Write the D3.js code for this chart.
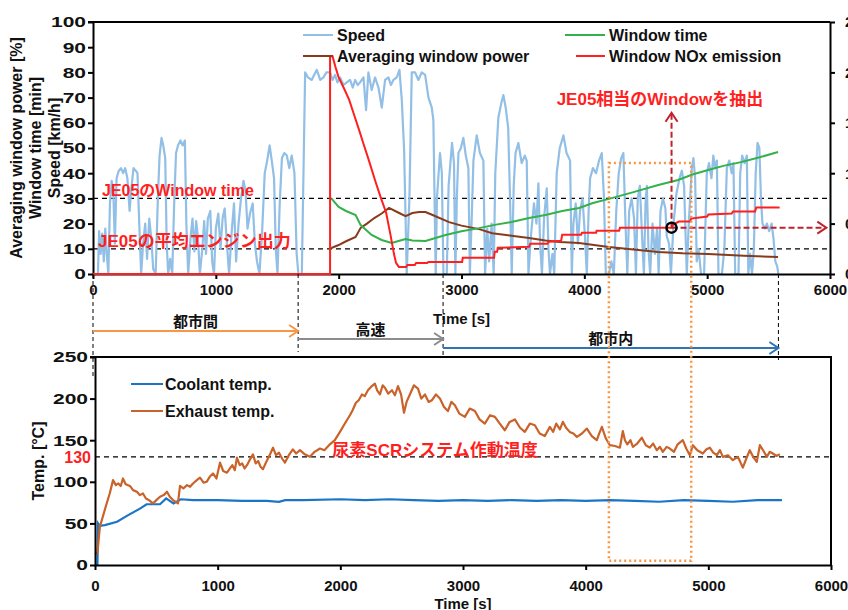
<!DOCTYPE html>
<html>
<head>
<meta charset="utf-8">
<style>
body {
  margin: 0;
  background: #ffffff;
}

svg {
  display: block;
}

text {
  font-family: "Liberation Sans", Arial, "Noto Sans CJK JP", sans-serif;
  font-weight: bold;
  fill: #111111;
}

.axis path, .axis line {
  stroke: #000000;
  stroke-width: 2;
}

.axis text {
  font-size: 15px;
}
</style>
</head>
<body>
<script src="https://cdnjs.cloudflare.com/ajax/libs/d3/7.8.5/d3.min.js"></script>
<script>
// ---- data: [time s, value] ----
var speed = [
  [0,0],[40,0],[50,17],[62,8],[75,16],[88,5],[100,18],[112,8],[125,0],[138,28],[152,37],[165,33],[178,12],[192,38],
  [210,41],[228,42],[245,40],[262,42],[280,38],[298,25],[312,34],[330,42],[348,41],[362,40],[378,18],[392,0],
  [408,12],[425,20],[440,6],[458,22],[475,14],[490,2],[510,0],[528,30],[542,47],[558,54],[572,51],[588,46],
  [600,12],[612,0],[628,6],[645,0],[662,30],[676,48],[692,51],[712,53],[730,51],[748,53],[760,20],[775,0],
  [795,15],[810,22],[825,9],[840,21],[855,14],[870,0],[890,10],[905,21],[920,8],[935,22],[955,25],[970,5],
  [985,0],[1000,18],[1020,24],[1038,10],[1055,22],[1072,26],[1090,12],[1108,0],[1128,16],[1148,28],[1165,5],
  [1185,20],[1205,30],[1225,37],[1242,33],[1258,18],[1278,24],[1300,28],[1318,12],[1335,5],[1355,0],[1378,18],
  [1398,40],[1418,45],[1438,51],[1458,44],[1474,38],[1488,10],[1502,0],[1520,28],[1538,46],[1558,48],[1578,47],
  [1598,42],[1618,47],[1640,40],[1658,8],[1672,0],[1700,0],
  [1727,80],[1750,78],[1781,77],[1800,79],[1822,81],[1850,77],[1876,78],[1900,80],[1930,80],[1950,77],[1971,79],
  [1990,76],[2012,78],[2040,75],[2066,76],[2093,77],[2115,74],[2134,77],[2155,75],[2174,76],[2202,78],[2223,65],
  [2242,80],[2269,73],[2296,78],[2324,74],[2351,66],[2378,77],[2405,78],[2425,75],[2446,77],[2473,78],[2495,81],
  [2514,69],[2533,49],[2554,0],[2576,30],[2595,80],[2622,80],[2649,77],[2676,80],[2704,79],[2731,70],[2758,66],
  [2771,61],[2790,0],
  [2800,30],[2825,48],[2840,40],[2853,0],[2880,0],[2895,35],[2923,52],[2939,44],[2950,0],[2962,30],[2975,48],
  [2995,50],[3015,54],[3035,47],[3056,42],[3068,0],[3085,25],[3097,45],[3124,55],[3150,48],[3178,45],[3192,0],
  [3210,18],[3225,5],[3245,20],[3262,0],[3275,40],[3300,62],[3325,68],[3341,71],[3360,66],[3380,58],[3395,30],
  [3409,0],[3425,35],[3440,48],[3463,52],[3490,44],[3515,47],[3531,45],[3545,0],[3565,15],[3590,28],[3610,20],
  [3626,36],[3640,12],[3655,0],[3672,22],[3694,34],[3708,10],[3720,0],[3740,8],[3755,0],[3775,40],[3800,50],
  [3830,55],[3855,48],[3884,45],[3898,0],[3911,20],[3930,28],[3948,12],[3965,25],[3985,30],[4005,15],[4020,0],
  [4035,25],[4047,38],[4070,42],[4095,40],[4120,45],[4142,48],[4160,30],[4175,0],[4200,0],[4220,5],[4240,0],
  [4260,25],[4280,40],[4300,46],[4318,48],[4335,20],[4350,0],[4365,25],[4385,30],[4405,22],[4420,0],[4435,30],
  [4452,35],[4470,15],[4485,0],[4498,28],[4509,35],[4522,10],[4536,0],[4555,20],[4575,8],[4592,18],[4605,0],
  [4620,25],[4640,30],[4660,26],[4671,15],[4690,12],[4705,0],[4726,20],[4750,32],[4775,38],[4794,41],[4812,35],
  [4834,0],[4850,20],[4875,42],[4888,46],[4902,38],[4915,5],[4930,10],[4950,0],[4975,0],[4997,40],[5015,44],
  [5035,38],[5050,47],[5065,42],[5079,45],[5092,0],[5120,0],[5140,10],[5160,42],[5180,45],[5200,40],[5214,44],
  [5228,0],[5255,0],[5269,40],[5285,47],[5305,44],[5323,47],[5335,0],[5350,8],[5365,0],[5380,10],[5395,40],
  [5410,52],[5425,50],[5438,30],[5450,20],[5470,18],[5486,20],[5505,17],[5525,20],[5540,14],[5555,5],[5570,3],[5580,0]
]

var windowTime = [
  [1940,30],[2000,26.6],[2060,25],[2138,23.4],[2179,19.4],[2268,15.5],[2350,13.5],[2431,12.3],[2480,13],
  [2545,13.9],[2600,13.3],[2707,13.1],[2870,15.5],[3000,17],[3143,18.2],[3270,19.5],[3407,20.6],[3550,22.2],
  [3683,23.4],[3820,25],[3957,26.2],[4070,28.2],[4200,29.8],[4400,32.5],[4602,35.3],[4764,37.3],[4880,39.5],
  [5008,41.3],[5140,43],[5276,44.4],[5420,46.2],[5577,48.4]
]

var windowPower = [
  [1940,10.3],[2000,11.5],[2060,13],[2138,14.7],[2179,18.3],[2230,20],[2290,22.2],[2350,24],[2410,26.2],
  [2480,24.5],[2545,23],[2600,24.2],[2655,24.6],[2707,24.6],[2760,23.5],[2899,20.6],[3000,19.2],[3143,17.8],
  [3250,16.2],[3407,15.2],[3550,14.3],[3683,13.3],[3800,12.7],[3957,12.3],[4200,10.7],[4400,9.7],[4602,8.7],
  [4800,8.2],[5008,7.9],[5300,7.2],[5577,6.7]
]

var windowNox = [
  [0,0],[1930,0],[1930,2.16],[1950,2.16],[1975,2.05],[2000,1.95],[2040,1.85],[2085,1.73],[2120,1.6],[2166,1.43],
  [2200,1.3],[2240,1.15],[2304,0.9],[2345,0.75],[2386,0.61],[2420,0.4],[2450,0.2],[2467,0.11],[2490,0.07],
  [2549,0.07],[2560,0.09],[2620,0.09],[2630,0.11],[2720,0.11],[2730,0.12],[3005,0.12],[3010,0.16],[3265,0.16],
  [3270,0.22],[3290,0.22],[3295,0.26],[3550,0.27],[3560,0.3],[3700,0.3],[3710,0.32],[3811,0.33],[3820,0.39],
  [3974,0.39],[3980,0.41],[4096,0.41],[4100,0.43],[4283,0.43],[4290,0.46],[4715,0.46],[4720,0.49],[4770,0.52],
  [4860,0.52],[4870,0.55],[5000,0.57],[5010,0.59],[5200,0.6],[5210,0.62],[5390,0.62],[5400,0.66],[5590,0.66]
]

var coolant = [
  [0,0],[20,0],[25,50],[40,47],[80,48],[180,52],[260,59],[370,68],[420,73],[530,73],[580,80],[640,74],[700,79],
  [800,78],[1000,78],[1200,77],[1400,77],[1500,76],[1550,78],[1700,78],[2000,79],[2200,78],[2400,79],[2600,78],
  [2800,77],[3000,78],[3200,77],[3400,78],[3600,77],[3800,78],[4000,77],[4200,78],[4400,77],[4600,76],[4800,78],
  [5000,77],[5200,76],[5400,78],[5600,78]
]

var exhaust = [
  [0,13],[20,15],[40,46],[95,74],[120,86],[147,102],[170,96],[190,98],[210,95],[228,104],[250,97],[285,95],
  [310,90],[342,88],[365,84],[391,86],[415,80],[440,78],[473,74],[500,78],[530,82],[560,84],[587,88],[610,82],
  [636,78],[676,74],[693,95],[720,92],[750,96],[775,94],[799,98],[830,102],[856,105],[885,99],[910,100],
  [935,106],[962,110],[990,104],[1019,123],[1045,113],[1076,111],[1100,116],[1120,120],[1140,114],[1157,129],
  [1180,120],[1200,122],[1220,116],[1239,120],[1260,126],[1288,133],[1310,122],[1330,125],[1350,118],[1369,115],
  [1390,122],[1410,128],[1430,134],[1451,141],[1475,132],[1500,135],[1525,128],[1548,123],[1580,132],[1613,139],
  [1640,134],[1671,138],[1710,133],[1752,130],[1790,136],[1834,140],[1870,138],[1915,145],[1955,150],[1997,160],
  [2037,170],[2078,180],[2100,186],[2127,195],[2150,198],[2176,205],[2200,203],[2225,210],[2250,214],[2282,218],
  [2300,210],[2323,205],[2345,216],[2364,213],[2390,206],[2421,210],[2445,204],[2470,215],[2495,205],[2519,183],
  [2540,196],[2567,205],[2600,216],[2633,212],[2660,200],[2690,205],[2720,196],[2746,198],[2780,205],[2812,200],
  [2845,190],[2877,185],[2905,196],[2934,192],[2970,182],[3015,178],[3055,188],[3097,185],[3135,175],[3178,170],
  [3220,180],[3260,178],[3300,170],[3341,162],[3380,172],[3423,175],[3465,165],[3504,160],[3545,170],[3586,168],
  [3625,158],[3667,155],[3708,166],[3735,160],[3760,170],[3790,163],[3814,172],[3840,165],[3870,160],[3900,158],
  [3928,154],[3970,158],[4010,164],[4050,155],[4091,150],[4110,158],[4132,166],[4165,152],[4197,144],[4240,143],
  [4279,141],[4303,161],[4320,150],[4340,145],[4365,150],[4385,142],[4420,146],[4458,153],[4490,144],[4523,141],
  [4550,146],[4580,138],[4605,142],[4629,136],[4660,142],[4686,140],[4720,136],[4750,145],[4792,150],[4820,140],
  [4849,132],[4874,144],[4910,138],[4955,134],[4985,139],[5012,141],[5040,135],[5070,132],[5095,138],[5118,130],
  [5160,132],[5200,126],[5240,130],[5260,124],[5281,117],[5310,128],[5338,138],[5365,130],[5395,124],[5420,144],
  [5450,137],[5477,130],[5500,136],[5526,134],[5555,131],[5583,133]
]

var timeTicks = [0, 1000, 2000, 3000, 4000, 5000, 6000]
var leftTicks = [0, 10, 20, 30, 40, 50, 60, 70, 80, 90, 100]
var rightTicks = [0, 0.5, 1, 1.5, 2, 2.5]
var tempTicks = [0, 50, 100, 150, 200, 250]

var je05Levels = [30, 10]          // window time [min], average power [%]
var scrTemp = 130
var phaseBounds = [0, 1670, 2850, 5580]
var phaseNames = ["都市間", "高速", "都市内"]
var phaseColors = ["#f79646", "#8c8c8c", "#2e75b6"]
var pickWindow = [4200, 4870]
var pickPoint = [4710, 0.46]

// ---- layout ----
var width = 848,
    height = 610;

var svg = d3.select("body")
  .append("svg")
  .attr("width", width)
  .attr("height", height)

var x = d3.scaleLinear().domain([0, 6000]).range([93, 830])
var yL = d3.scaleLinear().domain([0, 100]).range([274, 22])
var yR = d3.scaleLinear().domain([0, 2.5]).range([274, 22])
var x2 = d3.scaleLinear().domain([0, 6000]).range([95, 831])
var y2 = d3.scaleLinear().domain([0, 250]).range([565, 357])

var red = "#ff1f1f",
    darkRed = "#c0222c";

function lineOn(xs, ys) {
  return d3.line().x(function(d) { return xs(d[0]) }).y(function(d) { return ys(d[1]) })
}

function chevron(g, px, py, dir, color) {
  // open arrow head pointing right ("r") or up ("u")
  var p = dir === "r"
    ? [[px - 9, py - 6], [px, py], [px - 9, py + 6]]
    : [[px - 6, py + 9], [px, py], [px + 6, py + 9]]
  g.append("path")
    .attr("d", d3.line()(p))
    .attr("fill", "none")
    .attr("stroke", color)
    .attr("stroke-width", 2)
}

// ================= top chart =================
var topG = svg.append("g")

// JE05 reference lines
topG.selectAll(".je05")
  .data(je05Levels)
  .enter().append("line")
  .attr("x1", x(0)).attr("x2", x(6000))
  .attr("y1", function(d) { return yL(d) })
  .attr("y2", function(d) { return yL(d) })
  .attr("stroke", "#000")
  .attr("stroke-width", 1.2)
  .attr("stroke-dasharray", "5,4")

topG.append("path")
  .datum(speed)
  .attr("d", lineOn(x, yL))
  .attr("fill", "none")
  .attr("stroke", "#92bfe6")
  .attr("stroke-width", 2.2)
  .attr("stroke-linejoin", "round")

topG.append("path")
  .datum(windowPower)
  .attr("d", lineOn(x, yL))
  .attr("fill", "none")
  .attr("stroke", "#873b1b")
  .attr("stroke-width", 2)

topG.append("path")
  .datum(windowTime)
  .attr("d", lineOn(x, yL))
  .attr("fill", "none")
  .attr("stroke", "#34b14a")
  .attr("stroke-width", 2)

// axes
var axLeft = topG.append("g").attr("class", "axis")
  .attr("transform", "translate(" + x(0) + ",0)")
  .call(d3.axisLeft(yL).tickValues(leftTicks).tickSize(5).tickPadding(2).tickSizeOuter(0))
axLeft.selectAll("text").attr("transform", "scale(1.4,1)").attr("x", -7 / 1.4)

topG.append("g").attr("class", "axis")
  .attr("transform", "translate(" + x(6000) + ",0)")
  .call(d3.axisRight(yR).tickValues(rightTicks).tickSize(5).tickPadding(10).tickSizeOuter(0))
  .selectAll("text").text(function(d) { return d3.format(".1f")(d) })

topG.append("g").attr("class", "axis")
  .attr("transform", "translate(0," + yL(0) + ")")
  .call(d3.axisBottom(x).tickValues(timeTicks).tickFormat(d3.format("d"))
    .tickSize(5).tickPadding(5).tickSizeOuter(0))

topG.append("line")
  .attr("x1", x(0) - 5).attr("x2", x(6000))
  .attr("y1", yL(100)).attr("y2", yL(100))
  .attr("stroke", "#000").attr("stroke-width", 2)

// NOx on top of axis
topG.append("path")
  .datum(windowNox)
  .attr("d", lineOn(x, yR))
  .attr("fill", "none")
  .attr("stroke", red)
  .attr("stroke-width", 2)

// axis titles
var titles = ["Averaging window power  [%]", "Window time [min]", "Speed [km/h]"]
topG.selectAll(".ytitle")
  .data(titles)
  .enter().append("text")
  .attr("transform", function(d, i) { return "translate(" + (22 + i * 19) + "," + yL(50) + ") rotate(-90)" })
  .attr("text-anchor", "middle")
  .style("font-size", "16px")
  .text(function(d) { return d })

topG.append("text")
  .attr("x", x(3000))
  .attr("y", 324)
  .attr("text-anchor", "middle")
  .style("font-size", "15px")
  .text("Time [s]")

// legend
var legendItems = [
  { name: "Speed", color: "#92bfe6", x1: 303, x2: 333, y: 35 },
  { name: "Averaging window power", color: "#873b1b", x1: 303, x2: 333, y: 56 },
  { name: "Window time", color: "#34b14a", x1: 565, x2: 605, y: 35 },
  { name: "Window NOx emission", color: red, x1: 576, x2: 605, y: 56 }
]
var lg = topG.selectAll(".lg").data(legendItems).enter().append("g")
lg.append("line")
  .attr("x1", function(d) { return d.x1 }).attr("x2", function(d) { return d.x2 })
  .attr("y1", function(d) { return d.y }).attr("y2", function(d) { return d.y })
  .attr("stroke", function(d) { return d.color })
  .attr("stroke-width", 2)
lg.append("text")
  .attr("x", function(d) { return d.x2 + 4 })
  .attr("y", function(d) { return d.y + 6 })
  .style("font-size", "16px")
  .text(function(d) { return d.name })

// red annotations
topG.append("text")
  .attr("x", 102).attr("y", yL(30) - 2)
  .style("font-size", "16px").style("fill", red)
  .text("JE05のWindow time")
topG.append("text")
  .attr("x", 98).attr("y", yL(10) - 2)
  .style("font-size", "17px").style("fill", red)
  .text("JE05の平均エンジン出力")
topG.append("text")
  .attr("x", 660).attr("y", 105)
  .attr("text-anchor", "middle")
  .style("font-size", "17px").style("fill", red)
  .text("JE05相当のWindowを抽出")

// extraction arrows
var px = x(pickPoint[0]),
    py = yR(pickPoint[1]);
var arr = svg.append("g")
arr.append("line")
  .attr("x1", px).attr("x2", px).attr("y1", py).attr("y2", yL(64))
  .attr("stroke", darkRed).attr("stroke-width", 2).attr("stroke-dasharray", "6,3")
chevron(arr, px, yL(64), "u", darkRed)
arr.append("line")
  .attr("x1", px).attr("x2", x(5970)).attr("y1", py).attr("y2", py)
  .attr("stroke", darkRed).attr("stroke-width", 2).attr("stroke-dasharray", "6,3")
chevron(arr, x(5970), py, "r", darkRed)
arr.append("circle")
  .attr("cx", px).attr("cy", py).attr("r", 5)
  .attr("fill", "none").attr("stroke", "#000").attr("stroke-width", 2.5)

// ================= phases =================
var lineEnds = [378, 352, 358, 360]
var ph = svg.append("g")
ph.selectAll(".pl")
  .data(phaseBounds)
  .enter().append("line")
  .attr("x1", function(d) { return x(d) }).attr("x2", function(d) { return x(d) })
  .attr("y1", yL(0)).attr("y2", function(d, i) { return lineEnds[i] })
  .attr("stroke", "#000").attr("stroke-width", 1).attr("stroke-dasharray", "4,3")

var arrowY = [331, 339, 348]
phaseNames.forEach(function(name, i) {
  var a = x(phaseBounds[i]), b = x(phaseBounds[i + 1])
  ph.append("line")
    .attr("x1", a).attr("x2", b - 1).attr("y1", arrowY[i]).attr("y2", arrowY[i])
    .attr("stroke", phaseColors[i]).attr("stroke-width", 2.2)
  chevron(ph, b, arrowY[i], "r", phaseColors[i])
  ph.append("text")
    .attr("x", (a + b) / 2).attr("y", arrowY[i] - 4)
    .attr("text-anchor", "middle")
    .style("font-size", "15px")
    .text(name)
})

// ================= bottom chart =================
var bot = svg.append("g")

bot.append("line")
  .attr("x1", x2(0)).attr("x2", x2(6000))
  .attr("y1", y2(scrTemp)).attr("y2", y2(scrTemp))
  .attr("stroke", "#000").attr("stroke-width", 1.2).attr("stroke-dasharray", "5,4")

bot.append("path")
  .datum(coolant)
  .attr("d", lineOn(x2, y2))
  .attr("fill", "none")
  .attr("stroke", "#1b75c6")
  .attr("stroke-width", 2.2)

bot.append("path")
  .datum(exhaust)
  .attr("d", lineOn(x2, y2))
  .attr("fill", "none")
  .attr("stroke", "#c9632a")
  .attr("stroke-width", 2.2)
  .attr("stroke-linejoin", "round")

var axT = bot.append("g").attr("class", "axis")
  .attr("transform", "translate(" + x2(0) + ",0)")
  .call(d3.axisLeft(y2).tickValues(tempTicks).tickSize(5).tickPadding(2).tickSizeOuter(0))
axT.selectAll("text").attr("transform", "scale(1.4,1)").attr("x", -7 / 1.4)

bot.append("g").attr("class", "axis")
  .attr("transform", "translate(0," + y2(0) + ")")
  .call(d3.axisBottom(x2).tickValues(timeTicks).tickFormat(d3.format("d"))
    .tickSize(5).tickPadding(10).tickSizeOuter(0))

bot.append("path")
  .attr("d", d3.line()([[x2(0) - 5, y2(250)], [x2(6000), y2(250)], [x2(6000), y2(0)]]))
  .attr("fill", "none").attr("stroke", "#000").attr("stroke-width", 2)

bot.append("text")
  .attr("transform", "translate(44," + y2(125) + ") rotate(-90)")
  .attr("text-anchor", "middle")
  .style("font-size", "16px")
  .text("Temp. [°C]")

bot.append("text")
  .attr("x", x2(3000)).attr("y", 609)
  .attr("text-anchor", "middle")
  .style("font-size", "15px")
  .text("Time [s]")

bot.append("text")
  .attr("x", x2(0) - 4).attr("y", y2(scrTemp) + 6)
  .attr("text-anchor", "end")
  .style("font-size", "16px").style("fill", red)
  .text(scrTemp)

bot.append("text")
  .attr("x", 435).attr("y", y2(scrTemp) - 1)
  .attr("text-anchor", "middle")
  .style("font-size", "17px").style("fill", red)
  .text("尿素SCRシステム作動温度")

var lg2 = [
  { name: "Coolant temp.", color: "#1b75c6", y: 384 },
  { name: "Exhaust temp.", color: "#c9632a", y: 411 }
]
var l2 = bot.selectAll(".lg2").data(lg2).enter().append("g")
l2.append("line")
  .attr("x1", 131).attr("x2", 163)
  .attr("y1", function(d) { return d.y }).attr("y2", function(d) { return d.y })
  .attr("stroke", function(d) { return d.color }).attr("stroke-width", 2)
l2.append("text")
  .attr("x", 165).attr("y", function(d) { return d.y + 6 })
  .style("font-size", "16px")
  .text(function(d) { return d.name })

// picked window (dotted box spanning both charts)
svg.append("rect")
  .attr("x", x(pickWindow[0]))
  .attr("y", yL(44))
  .attr("width", x(pickWindow[1]) - x(pickWindow[0]))
  .attr("height", y2(5) - yL(44))
  .attr("fill", "none")
  .attr("stroke", "#f79646")
  .attr("stroke-width", 2.5)
  .attr("stroke-dasharray", "2,3")
</script>
</body>
</html>
